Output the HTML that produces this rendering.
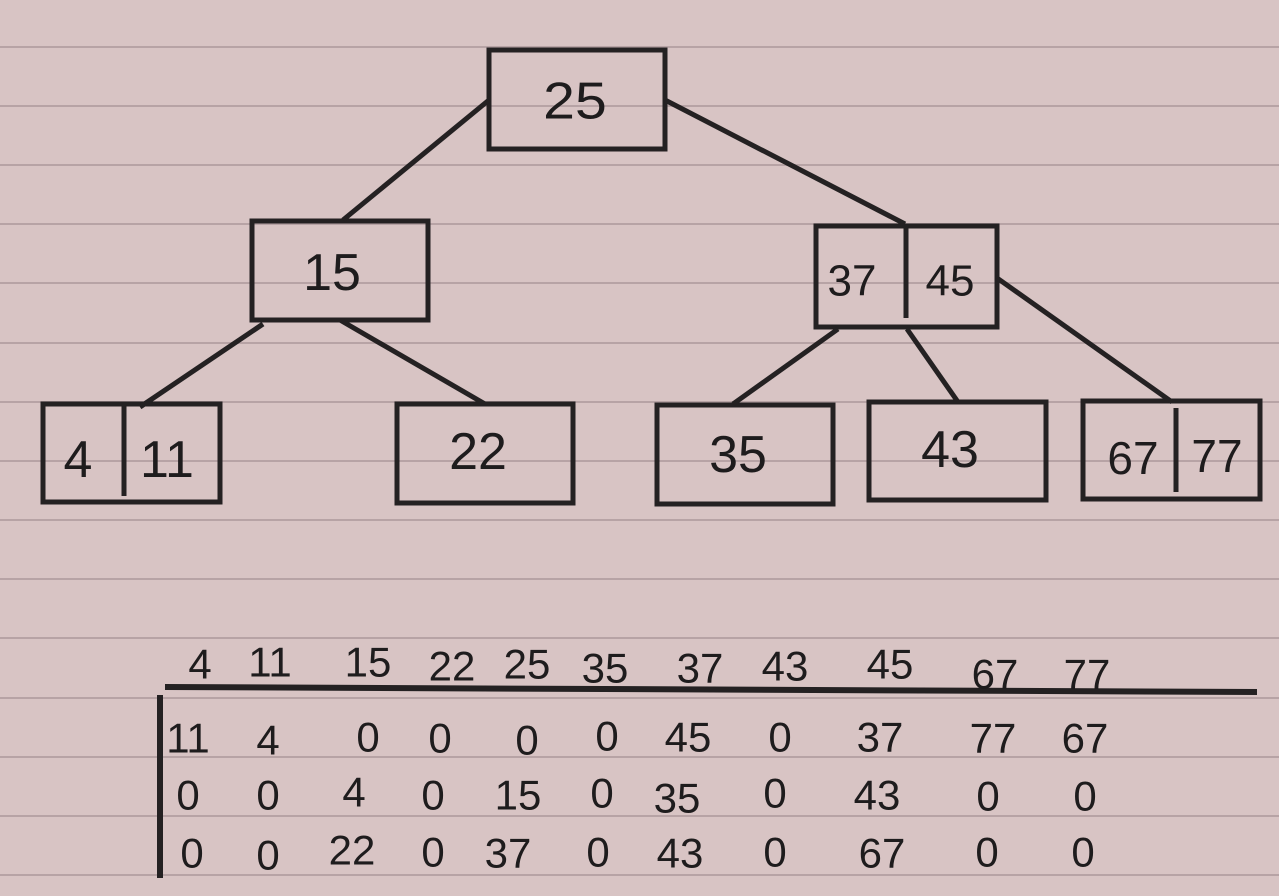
<!DOCTYPE html>
<html><head><meta charset="utf-8"><style>
html,body{margin:0;padding:0;background:#d8c4c4;}
svg{display:block}
text{font-family:"Liberation Sans",sans-serif;fill:#1e1c1d;text-anchor:middle;dominant-baseline:central}
</style></head><body>
<svg width="1279" height="896" viewBox="0 0 1279 896" xmlns="http://www.w3.org/2000/svg">
<rect width="1279" height="896" fill="#d8c4c4"/>
<g stroke="#b7a3a5" stroke-width="2">
<line x1="0" y1="47" x2="1279" y2="47"/><line x1="0" y1="106" x2="1279" y2="106"/>
<line x1="0" y1="165" x2="1279" y2="165"/><line x1="0" y1="224" x2="1279" y2="224"/>
<line x1="0" y1="283" x2="1279" y2="283"/><line x1="0" y1="343" x2="1279" y2="343"/>
<line x1="0" y1="402" x2="1279" y2="402"/><line x1="0" y1="461" x2="1279" y2="461"/>
<line x1="0" y1="520" x2="1279" y2="520"/><line x1="0" y1="579" x2="1279" y2="579"/>
<line x1="0" y1="638" x2="1279" y2="638"/><line x1="0" y1="698" x2="1279" y2="698"/>
<line x1="0" y1="757" x2="1279" y2="757"/><line x1="0" y1="816" x2="1279" y2="816"/>
<line x1="0" y1="875" x2="1279" y2="875"/>
</g>
<g stroke="#242122" stroke-width="5" fill="none">
<rect x="489" y="50" width="176" height="99"/>
<rect x="252" y="221" width="176" height="99"/>
<rect x="816" y="226" width="181" height="101"/><line x1="906" y1="226" x2="906" y2="318"/>
<rect x="43" y="404" width="177" height="98"/><line x1="124" y1="404" x2="124" y2="496"/>
<rect x="397" y="404" width="176" height="99"/>
<rect x="657" y="405" width="176" height="99"/>
<rect x="869" y="402" width="177" height="98"/>
<rect x="1083" y="401" width="177" height="98"/><line x1="1176" y1="408" x2="1176" y2="492"/>
<line x1="489" y1="100" x2="343" y2="220"/>
<line x1="665" y1="100" x2="905" y2="224"/>
<line x1="263" y1="324" x2="140" y2="407"/>
<line x1="340" y1="320" x2="485" y2="404"/>
<line x1="838" y1="329" x2="733" y2="404"/>
<line x1="907" y1="329" x2="958" y2="402"/>
<line x1="997" y1="278" x2="1172" y2="402"/>
<line x1="165" y1="687" x2="1257" y2="692" stroke-width="6"/>
<line x1="160" y1="695" x2="160" y2="878" stroke-width="6"/>
</g>
<g font-size="52">
<text x="575" y="101" transform="translate(575 101) scale(1.1 1) translate(-575 -101)">25</text>
<text x="332" y="273">15</text>
<text x="852" y="281" font-size="44">37</text>
<text x="950" y="281" font-size="44">45</text>
<text x="78" y="460">4</text>
<text x="167" y="460">11</text>
<text x="478" y="452">22</text>
<text x="738" y="455">35</text>
<text x="950" y="450">43</text>
<text x="1133" y="458" font-size="46">67</text>
<text x="1217" y="456" font-size="46">77</text>
</g>
<g font-size="42">
<text x="200" y="664">4</text><text x="270" y="662">11</text><text x="368" y="662">15</text>
<text x="452" y="666">22</text><text x="527" y="664">25</text><text x="605" y="668">35</text>
<text x="700" y="668">37</text><text x="785" y="666">43</text><text x="890" y="664">45</text>
<text x="995" y="674">67</text><text x="1087" y="674">77</text>
<text x="188" y="738">11</text><text x="268" y="740">4</text><text x="368" y="737">0</text>
<text x="440" y="738">0</text><text x="527" y="740">0</text><text x="607" y="736">0</text>
<text x="688" y="737">45</text><text x="780" y="737">0</text><text x="880" y="737">37</text>
<text x="993" y="738">77</text><text x="1085" y="738">67</text>
<text x="188" y="795">0</text><text x="268" y="795">0</text><text x="354" y="792">4</text>
<text x="433" y="795">0</text><text x="518" y="795">15</text><text x="602" y="793">0</text>
<text x="677" y="798">35</text><text x="775" y="793">0</text><text x="877" y="795">43</text>
<text x="988" y="796">0</text><text x="1085" y="796">0</text>
<text x="192" y="853">0</text><text x="268" y="855">0</text><text x="352" y="850">22</text>
<text x="433" y="852">0</text><text x="508" y="853">37</text><text x="598" y="852">0</text>
<text x="680" y="853">43</text><text x="775" y="852">0</text><text x="882" y="853">67</text>
<text x="987" y="852">0</text><text x="1083" y="852">0</text>
</g>
</svg>
</body></html>
